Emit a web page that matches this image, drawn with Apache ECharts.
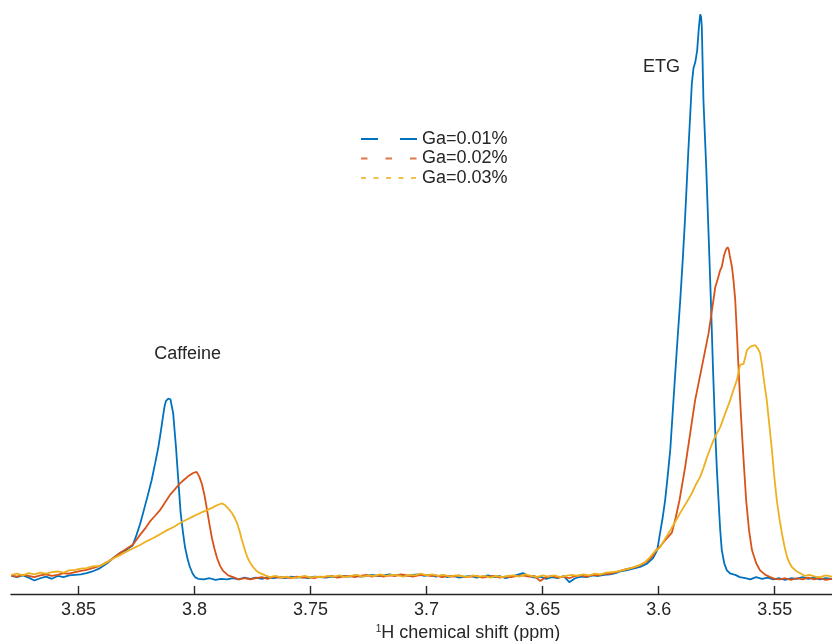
<!DOCTYPE html>
<html>
<head>
<meta charset="utf-8">
<title>1H NMR spectra</title>
<script src="https://cdn.jsdelivr.net/npm/echarts@6/dist/echarts.min.js"></script>
<style>
  html, body { margin: 0; padding: 0; background: #ffffff; }
  #chart { width: 832px; height: 641px; }
</style>
</head>
<body>
<div id="chart"></div>
<script>
// Chemical shift ticks (ppm), axis is reversed as usual for NMR
const tickValues = [3.85, 3.8, 3.75, 3.7, 3.65, 3.6, 3.55];
const seriesNames = ['Ga=0.01%', 'Ga=0.02%', 'Ga=0.03%'];

// Ga = 0.01 %
const ppm01 = [3.879,3.8765,3.874,3.8715,3.869,3.8665,3.864,3.8615,3.859,3.8565,3.854,3.8515,3.849,3.8465,3.844,3.8407,
  3.8375,3.835,3.8321,3.8295,3.8267,3.825,3.8235,3.8221,3.8203,3.8185,3.817,3.8156,3.8145,3.8134,3.8128,3.8123,3.8113,3.8104,3.8098,
  3.8092,3.8086,3.808,3.8075,3.807,3.8065,3.806,3.805,3.8041,3.803,3.802,3.8008,3.7998,3.7985,
  3.796,3.7935,3.791,3.7885,3.786,3.7835,3.781,3.7785,3.776,3.7735,3.771,3.7685,3.766,3.7635,3.761,3.7585,3.756,3.7535,3.751,
  3.7485,3.746,3.7435,3.741,3.7385,3.736,3.7335,3.731,3.7285,3.726,3.7235,3.721,3.7185,3.716,3.7135,3.711,3.7085,3.706,3.7035,
  3.701,3.6985,3.696,3.6935,3.691,3.6885,3.686,3.6835,3.681,3.6785,3.676,3.6735,3.671,3.6685,3.666,3.6635,3.661,3.6585,3.656,
  3.6535,3.651,3.6485,3.646,3.6435,3.641,3.6385,3.636,3.6335,3.631,3.6285,3.626,3.6235,3.621,3.6185,3.6166,3.614,3.611,3.608,
  3.605,3.6024,3.6006,3.5994,3.5983,3.5972,3.5961,3.595,3.5936,3.5922,3.5907,3.5896,3.5886,3.5872,3.5857,3.585,3.5842,3.5834,
  3.5827,3.5821,3.5817,3.5814,3.5807,3.5795,3.5785,3.5775,3.5766,3.5756,3.5749,3.5742,3.5735,3.5728,3.5717,3.5706,3.569,3.567,
  3.565,3.5627,3.5605,3.558,3.5555,3.553,3.5505,3.548,3.5455,3.543,3.5405,3.538,3.5355,3.533,3.5305,3.528,3.5253];
const int01 = [0.2,0.0,0.3,-0.1,-0.6,-0.2,0.1,-0.3,0.2,0.0,0.3,0.4,0.5,0.7,1.0,1.6,
  2.5,3.4,4.3,4.8,5.6,7.5,9.4,11.5,14.3,17.2,20.2,23.1,26.0,29.1,30.6,31.3,31.7,31.6,31.3,
  29.1,26.0,23.1,20.1,17.2,14.3,11.4,8.0,5.3,3.2,1.8,0.6,0.0,-0.3,
  -0.4,-0.2,-0.5,-0.3,-0.4,-0.2,-0.4,-0.1,-0.3,-0.1,-0.3,0.0,-0.2,0.0,-0.2,0.1,-0.1,0.0,-0.2,
  0.1,0.0,-0.1,0.1,0.0,0.2,0.1,0.3,0.1,0.2,0.4,0.2,0.3,0.5,0.3,0.4,0.2,0.4,0.5,
  0.2,0.4,0.1,0.3,0.0,0.2,-0.1,0.1,0.2,-0.1,0.1,0.3,0.0,0.2,-0.2,0.1,0.4,0.7,0.2,
  -0.1,0.1,-0.3,0.0,-0.2,0.2,-0.9,-0.2,0.1,0.0,0.3,0.2,0.4,0.5,0.7,1.0,1.2,1.5,1.8,
  2.4,3.4,4.8,7.8,10.5,13.7,18.0,22.6,31.5,40.3,49.2,56.5,63.9,75.8,87.7,90.4,91.5,93.6,
  97.5,100,99.5,97.7,84.7,72.8,61.1,49.2,37.3,25.6,19.0,13.7,8.5,4.8,2.4,1.2,0.6,0.4,
  0.0,-0.2,-0.4,0.0,-0.3,-0.1,-0.4,-0.2,-0.5,-0.2,-0.3,0.0,-0.3,-0.1,-0.4,-0.2,-0.3];

// Ga = 0.02 %
const ppm02 = [3.879,3.8765,3.874,3.8715,3.869,3.8665,3.864,3.8615,3.859,3.8565,3.854,3.8515,3.849,3.8465,3.844,3.8407,
  3.8375,3.835,3.8321,3.8295,3.8265,3.8235,3.821,3.8192,3.817,3.8149,3.8128,3.8106,3.8085,3.8062,3.8045,3.8028,3.8006,3.7991,
  3.7985,3.798,3.7968,3.7957,3.7946,3.7935,3.7925,3.7914,3.7903,3.789,3.7877,3.7855,3.7834,3.781,3.7785,
  3.776,3.7735,3.771,3.7685,3.766,3.7635,3.761,3.7585,3.756,3.7535,3.751,3.7485,3.746,3.7435,3.741,3.7385,3.736,3.7335,3.731,
  3.7285,3.726,3.7235,3.721,3.7185,3.716,3.7135,3.711,3.7085,3.706,3.7035,3.701,3.6985,3.696,3.6935,3.691,3.6885,3.686,3.6835,
  3.681,3.6785,3.676,3.6735,3.671,3.6685,3.666,3.6635,3.661,3.6585,3.656,3.6535,3.651,3.6485,3.646,3.6435,3.641,3.6385,3.636,
  3.6335,3.631,3.6285,3.626,3.6235,3.621,3.6185,3.6166,3.614,3.611,3.608,3.605,3.6024,3.6015,3.5995,3.5981,3.5962,3.5943,
  3.5927,3.591,3.5886,3.5864,3.5843,3.5814,3.5785,3.5764,3.5756,3.5745,3.5735,3.5728,3.5718,3.571,3.5703,3.5698,3.5694,3.5684,
  3.5677,3.567,3.5663,3.5656,3.5649,3.5641,3.5632,3.5623,3.5611,3.5598,3.558,3.5563,3.554,3.5519,3.55,3.5476,3.5455,3.543,
  3.5405,3.538,3.5355,3.533,3.5305,3.528,3.5253];
const int02 = [0.3,0.1,0.4,0.2,0.0,0.3,0.5,0.2,0.4,0.7,0.6,0.9,1.1,1.3,1.6,2.0,
  2.7,3.4,4.3,5.0,5.8,7.5,8.8,9.9,10.9,11.9,13.2,14.6,15.6,16.7,17.3,17.9,18.5,18.7,
  18.4,17.9,16.5,14.5,11.9,9.2,6.9,5.0,3.4,2.0,1.1,0.3,0.0,-0.4,-0.2,
  -0.4,-0.2,0.0,-0.3,0.1,-0.1,0.0,-0.2,0.1,-0.1,0.0,-0.2,0.1,0.0,0.2,-0.1,0.1,0.2,0.0,
  0.2,0.4,0.1,0.3,0.1,0.3,0.2,0.5,0.3,0.1,0.3,0.4,0.2,0.3,0.0,0.2,0.1,0.3,0.0,
  0.1,0.2,-0.1,0.1,0.2,-0.1,0.1,0.0,0.2,0.3,0.1,0.2,-0.7,0.0,0.2,-0.1,0.1,-0.2,0.2,
  0.3,0.1,0.4,0.3,0.6,0.6,0.9,1.1,1.4,1.7,2.1,2.8,3.8,4.6,5.4,6.1,7.0,7.9,
  10.5,13.7,19.5,25.6,31.4,37.3,43.3,49.2,51.5,53.0,54.5,55.1,57.2,58.2,58.6,58.2,57.2,55.1,
  52.5,49.2,43.5,37.3,31.5,25.6,19.5,13.7,8.5,4.8,2.5,1.2,0.4,0.0,-0.3,-0.4,-0.2,-0.5,
  -0.2,-0.4,-0.1,-0.4,-0.2,-0.5,-0.3];

// Ga = 0.03 %
const ppm03 = [3.879,3.8765,3.874,3.8715,3.869,3.8665,3.864,3.8615,3.859,3.8565,3.854,3.8515,3.849,3.8465,3.844,3.8407,
  3.8375,3.835,3.8321,3.829,3.8265,3.8235,3.8205,3.818,3.8149,3.812,3.809,3.8062,3.8035,3.8006,3.7975,3.7946,3.7925,3.7912,
  3.7895,3.7882,3.7875,3.7869,3.7855,3.7839,3.7828,3.7817,3.7806,3.7796,3.7785,3.7774,3.776,3.7748,3.7733,3.7718,3.7695,3.7675,
  3.765,3.7625,3.76,3.7575,3.755,3.7525,3.75,3.7475,3.745,3.7425,3.74,3.7375,3.735,3.7325,3.73,3.7275,3.725,3.7225,3.72,
  3.7175,3.715,3.7125,3.71,3.7075,3.705,3.7025,3.7,3.6975,3.695,3.6925,3.69,3.6875,3.685,3.6825,3.68,3.6775,3.675,3.6725,
  3.67,3.6675,3.665,3.6625,3.66,3.6575,3.655,3.6525,3.65,3.6475,3.645,3.6425,3.64,3.6375,3.635,3.6325,3.63,3.6275,3.625,
  3.6225,3.62,3.6175,3.615,3.612,3.609,3.606,3.604,3.6022,3.5994,3.5972,3.595,3.5925,3.59,3.5878,3.5857,3.584,3.5821,3.5806,
  3.5792,3.5778,3.5764,3.575,3.5735,3.5714,3.5692,3.5678,3.5663,3.5656,3.5649,3.5641,3.5634,3.5627,3.562,3.5606,3.5595,3.5584,
  3.5577,3.5571,3.5563,3.5555,3.5548,3.5541,3.5534,3.5523,3.5512,3.5502,3.5491,3.548,3.5469,3.5458,3.5447,3.5436,3.5426,3.5408,
  3.539,3.537,3.535,3.5325,3.5304,3.528,3.5253];
const int03 = [0.4,0.6,0.3,0.7,0.5,0.8,0.6,0.9,1.0,0.8,1.2,1.3,1.5,1.6,1.9,2.0,
  2.7,3.3,3.9,4.6,5.1,5.7,6.4,6.9,7.6,8.3,8.9,9.6,10.2,10.8,11.4,11.9,12.3,12.6,
  12.9,13.1,13.0,12.8,12.2,11.4,10.6,9.6,8.2,6.6,5.1,3.7,2.5,1.8,1.1,0.7,0.3,0.0,
  0.2,-0.1,0.1,-0.2,0.0,0.2,-0.1,0.1,0.0,0.2,0.1,0.3,0.0,0.2,0.4,0.1,0.3,0.2,0.5,
  0.2,0.4,0.3,0.1,0.4,0.3,0.6,0.3,0.5,0.2,0.4,0.1,0.3,0.2,0.0,0.3,0.1,0.2,-0.1,
  0.2,0.0,0.2,0.3,0.1,0.5,0.2,0.0,0.3,0.1,0.3,0.0,0.2,0.4,0.2,0.5,0.3,0.6,0.5,
  0.8,0.9,1.0,1.3,1.6,2.0,2.6,3.4,4.3,5.3,6.8,8.3,10.1,11.9,13.4,14.9,16.4,17.8,19.5,
  21.3,22.8,24.3,25.5,26.6,29.0,31.4,33.2,35.0,36.4,37.7,37.8,37.9,39.0,40.3,40.9,41.1,41.2,
  40.9,40.5,39.8,37.8,35.5,33.4,31.4,27.0,22.6,18.0,13.7,10.5,7.8,5.5,3.6,2.5,1.8,1.1,
  0.7,0.2,0.4,0.1,0.0,0.3,0.1];

const colors = ['#0072BD', '#D95319', '#EDB120'];
const textColor = '#262626';
const fontFamily = '"Liberation Sans", Arial, Helvetica, sans-serif';

function pairs(xs, ys) {
  return xs.map((x, i) => [x, ys[i]]);
}

const spectra = [pairs(ppm01, int01), pairs(ppm02, int02), pairs(ppm03, int03)];

const chart = echarts.init(document.getElementById('chart'), null, { renderer: 'canvas' });

// legend samples: MATLAB-like broken line swatches
const legendDash = [[17, 22], [6.5, 18], [5, 7.5]];
const legendRowsY = [139, 158.5, 178];
const legendGraphics = [];
seriesNames.forEach((name, i) => {
  legendGraphics.push({
    type: 'line',
    shape: { x1: 361, y1: legendRowsY[i], x2: 417, y2: legendRowsY[i] },
    style: { stroke: colors[i], lineWidth: 2, lineDash: legendDash[i], opacity: i === 0 ? 1 : 0.8 },
    silent: true
  });
  legendGraphics.push({
    type: 'text',
    x: 422, y: legendRowsY[i],
    style: { text: name, fill: textColor, font: '18px ' + fontFamily, textVerticalAlign: 'middle', textAlign: 'left' },
    silent: true
  });
});

const option = {
  animation: false,
  backgroundColor: '#ffffff',
  grid: { left: 11, right: 0, top: 3, bottom: 47, containLabel: false },
  xAxis: {
    type: 'value',
    inverse: true,
    min: 3.5253,
    max: 3.8791,
    axisLine: { show: true, onZero: false, lineStyle: { color: textColor, width: 1.4 } },
    axisTick: { show: true, inside: true, length: 8, lineStyle: { color: textColor, width: 1.4 }, customValues: tickValues },
    axisLabel: { color: textColor, fontSize: 18, fontFamily: fontFamily, margin: 7, customValues: tickValues },
    splitLine: { show: false }
  },
  yAxis: {
    type: 'value',
    min: -3,
    max: 102,
    show: false,
    splitLine: { show: false }
  },
  series: spectra.map((data, i) => ({
    name: seriesNames[i],
    type: 'line',
    data: data,
    showSymbol: false,
    symbol: 'none',
    clip: true,
    lineStyle: { color: colors[i], width: 1.8 },
    itemStyle: { color: colors[i] },
    z: 2 + i
  })),
  graphic: [
    {
      type: 'text',
      x: 468, y: 633,
      style: {
        text: '{sup|1}H chemical shift (ppm)',
        fill: textColor,
        font: '18px ' + fontFamily,
        textAlign: 'center',
        textVerticalAlign: 'middle',
        rich: { sup: { fontSize: 10, verticalAlign: 'top', padding: [0, 0, 8, 0], fill: textColor, fontFamily: fontFamily } }
      },
      silent: true
    },
    {
      type: 'text', x: 187.6, y: 353.6,
      style: { text: 'Caffeine', fill: textColor, font: '18px ' + fontFamily, textAlign: 'center', textVerticalAlign: 'middle' },
      silent: true
    },
    {
      type: 'text', x: 661.6, y: 67.5,
      style: { text: 'ETG', fill: textColor, font: '18px ' + fontFamily, textAlign: 'center', textVerticalAlign: 'middle' },
      silent: true
    }
  ].concat(legendGraphics)
};

chart.setOption(option);
</script>
</body>
</html>
